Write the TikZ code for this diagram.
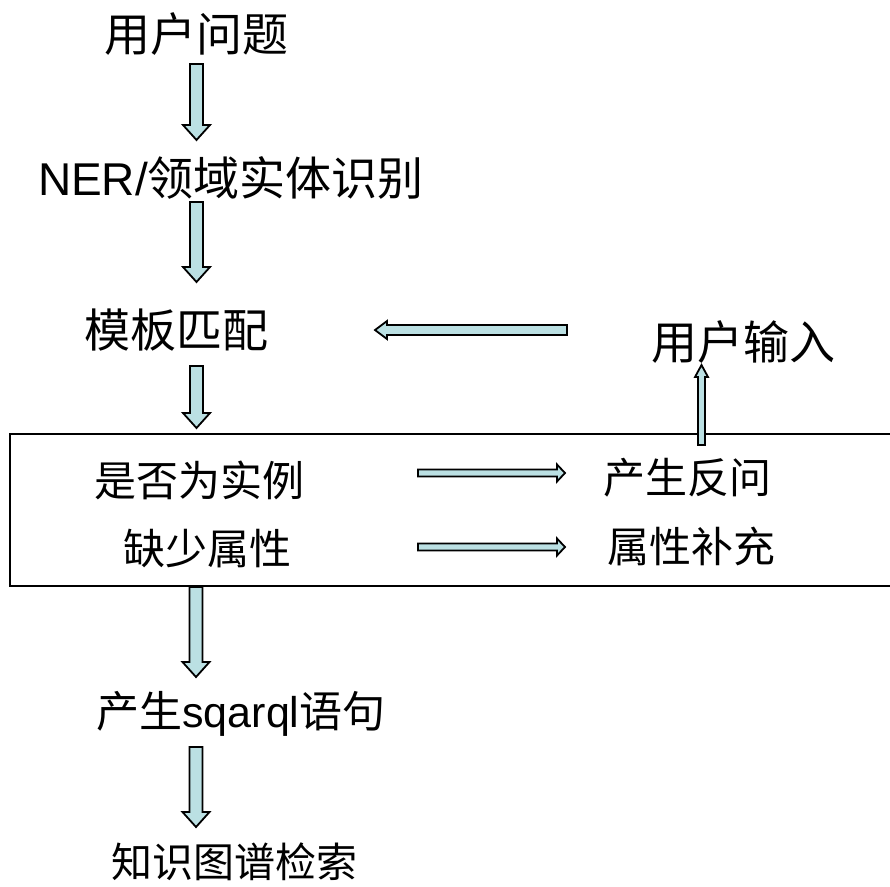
\documentclass[tikz,border=0pt]{standalone}
\usepackage{fontspec}
\setmainfont{Liberation Sans}
\newfontfamily\song{Noto Sans CJK SC}
\usetikzlibrary{calc}
\definecolor{arrowfill}{RGB}{187,224,227}
\tikzset{
  blk/.style={draw=black, fill=arrowfill, line width=1.8pt, line join=miter},
  lbl/.style={inner sep=0pt, anchor=center},
  big/.style={lbl, font=\fontsize{46}{46}\selectfont},
  mid/.style={lbl, font=\fontsize{43}{43}\selectfont},
  small/.style={lbl, font=\fontsize{42}{42}\selectfont},
  frame/.style={draw=black, line width=1.3pt}
}
% vertical block arrow: #1 start, #2 end, #3 shaft half width, #4 head half width, #5 head length
\newcommand{\vblock}[5]{%
  \draw[blk] let \p1=(#1), \p2=(#2), \n1={sign(\y2-\y1)} in
    (\x1-#3,\y1) -- (\x1-#3,\y2-\n1*#5) -- (\x1-#4,\y2-\n1*#5) -- (\x1,\y2)
    -- (\x1+#4,\y2-\n1*#5) -- (\x1+#3,\y2-\n1*#5) -- (\x1+#3,\y1) -- cycle;}
% horizontal block arrow
\newcommand{\hblock}[5]{%
  \draw[blk] let \p1=(#1), \p2=(#2), \n1={sign(\x2-\x1)} in
    (\x1,\y1-#3) -- (\x2-\n1*#5,\y1-#3) -- (\x2-\n1*#5,\y1-#4) -- (\x2,\y1)
    -- (\x2-\n1*#5,\y1+#4) -- (\x2-\n1*#5,\y1+#3) -- (\x1,\y1+#3) -- cycle;}
\begin{document}
\begin{tikzpicture}[x=1pt,y=-1pt]
\useasboundingbox (0,0) rectangle (890,886);
\clip (0,0) rectangle (890,886);
% box
\draw[frame] (10,434) rectangle (900,586);
% text nodes
\node[big] (q) at (196,34) {\song 用户问题};
\node[big] (ner) at (231,178) {NER/{\song 领域实体识别}};
\node[big] (tpl) at (176,330) {\song 模板匹配};
\node[big] (uin) at (743,342) {\song 用户输入};
\node[small] (inst) at (199,480) {\song 是否为实例};
\node[small] (ask) at (687,478) {\song 产生反问};
\node[small] (miss) at (207,549) {\song 缺少属性};
\node[small] (sup) at (691,546) {\song 属性补充};
\node[mid] (sq) at (241,714) {{\song 产生}sqarql{\song 语句}};
\node[lbl, font=\fontsize{41}{41}\selectfont] (kg) at (234,862) {\song 知识图谱检索};
% connector end points
\coordinate (a1s) at (196.5,64);  \coordinate (a1e) at (196.5,140);
\coordinate (a2s) at (196.5,202); \coordinate (a2e) at (196.5,282);
\coordinate (a3s) at (196.5,366); \coordinate (a3e) at (196.5,428);
\coordinate (a4s) at (196,587);   \coordinate (a4e) at (196,677);
\coordinate (a5s) at (196,747);   \coordinate (a5e) at (196,827);
\coordinate (ls) at (567,330);    \coordinate (le) at (375,330);
\coordinate (us) at (701.5,445);  \coordinate (ue) at (701.5,365);
\coordinate (r1s) at (418,473);   \coordinate (r1e) at (565,473);
\coordinate (r2s) at (418,547);   \coordinate (r2e) at (565,547);
% arrows
\vblock{a1s}{a1e}{6.5pt}{13.5pt}{15pt}
\vblock{a2s}{a2e}{6.5pt}{13.5pt}{15pt}
\vblock{a3s}{a3e}{6.5pt}{13.5pt}{15pt}
\vblock{a4s}{a4e}{6.5pt}{13.5pt}{15pt}
\vblock{a5s}{a5e}{6.5pt}{13.5pt}{15pt}
\hblock{ls}{le}{5pt}{9pt}{12pt}
\vblock{us}{ue}{3.5pt}{6.5pt}{12pt}
\hblock{r1s}{r1e}{3.5pt}{8.5pt}{8pt}
\hblock{r2s}{r2e}{3.5pt}{8.5pt}{8pt}
\end{tikzpicture}
\end{document}
